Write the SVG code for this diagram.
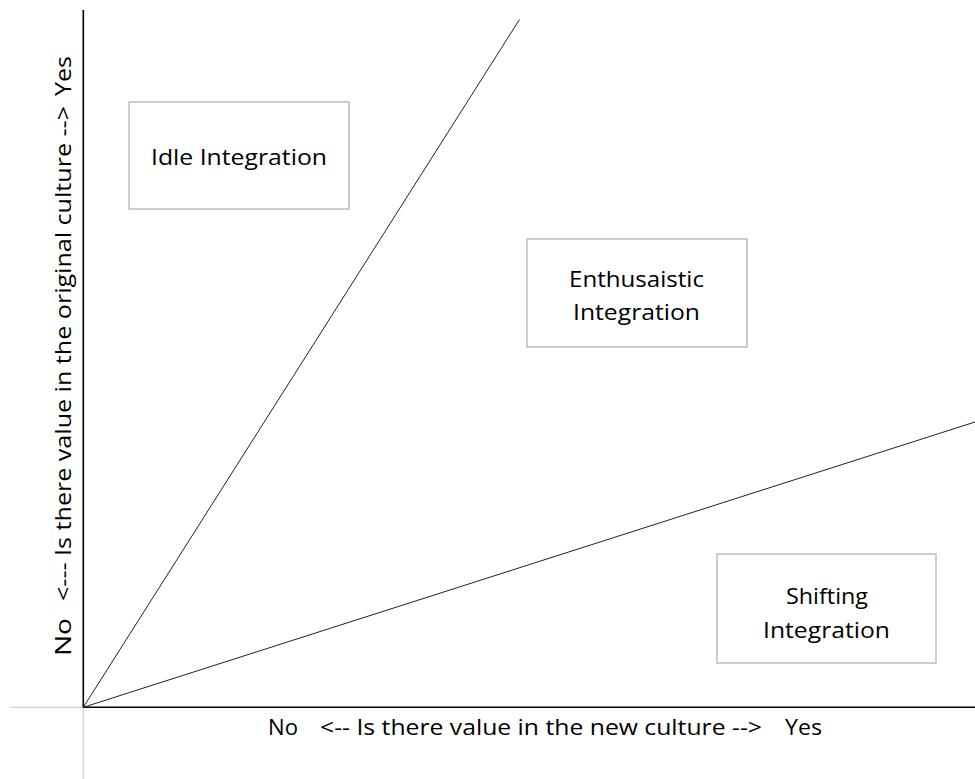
<svg xmlns="http://www.w3.org/2000/svg" width="975" height="779" viewBox="0 0 975 779">
  <style>
    .axis { stroke: #000; stroke-width: 1.6; fill: none; }
    .guide { stroke: #d4d4d4; stroke-width: 1.2; fill: none; }
    .split { stroke: #222; stroke-width: 1; fill: none; }
    .box { fill: #fff; stroke: #bdbdbd; stroke-width: 1.5; }
    .lbl { font-family: "Open Sans", "Liberation Sans", sans-serif; font-size: 21px; fill: #000; }
    .ax { font-family: "Open Sans", "Liberation Sans", sans-serif; font-size: 22px; fill: #000; }
  </style>
  <rect width="975" height="779" fill="#fff"/>

  <g id="connectors">
    <!-- faint extensions of the axes past the origin -->
    <line class="guide" x1="9" y1="707.3" x2="83.3" y2="707.3"/>
    <line class="guide" x1="83.3" y1="707.3" x2="83.3" y2="779"/>
    <!-- axes -->
    <line class="axis" x1="83.3" y1="10" x2="83.3" y2="707.3"/>
    <line class="axis" x1="83.3" y1="707.3" x2="975" y2="707.3"/>
    <!-- region boundaries -->
    <line class="split" x1="83.3" y1="707.3" x2="519.5" y2="19.5"/>
    <line class="split" x1="83.3" y1="707.3" x2="975" y2="422"/>
  </g>

  <g id="idle">
    <rect class="box" x="129" y="102" width="220" height="107"/>
    <text class="lbl" x="151" y="165" textLength="176" lengthAdjust="spacingAndGlyphs">Idle Integration</text>
  </g>

  <g id="enthusiastic">
    <rect class="box" x="527" y="239" width="220" height="108"/>
    <text class="lbl" x="569" y="287" textLength="135" lengthAdjust="spacingAndGlyphs">Enthusaistic</text>
    <text class="lbl" x="573" y="320" textLength="127" lengthAdjust="spacingAndGlyphs">Integration</text>
  </g>

  <g id="shifting">
    <rect class="box" x="717" y="554" width="219" height="109"/>
    <text class="lbl" x="786" y="604" textLength="82" lengthAdjust="spacingAndGlyphs">Shifting</text>
    <text class="lbl" x="763" y="638" textLength="127" lengthAdjust="spacingAndGlyphs">Integration</text>
  </g>

  <g id="x-axis-label">
    <text class="ax" x="268" y="735" textLength="30" lengthAdjust="spacingAndGlyphs">No</text>
    <text class="ax" x="320" y="735" textLength="442" lengthAdjust="spacingAndGlyphs">&lt;-- Is there value in the new culture --&gt;</text>
    <text class="ax" x="785" y="735" textLength="37" lengthAdjust="spacingAndGlyphs">Yes</text>
  </g>

  <g id="y-axis-label" transform="translate(71,656) rotate(-90)">
    <text class="ax" x="0" y="0" textLength="38" lengthAdjust="spacingAndGlyphs">No</text>
    <text class="ax" x="55" y="0" textLength="495" lengthAdjust="spacingAndGlyphs">&lt;--- Is there value in the original culture --&gt;</text>
    <text class="ax" x="560" y="0" textLength="40" lengthAdjust="spacingAndGlyphs">Yes</text>
  </g>
</svg>
